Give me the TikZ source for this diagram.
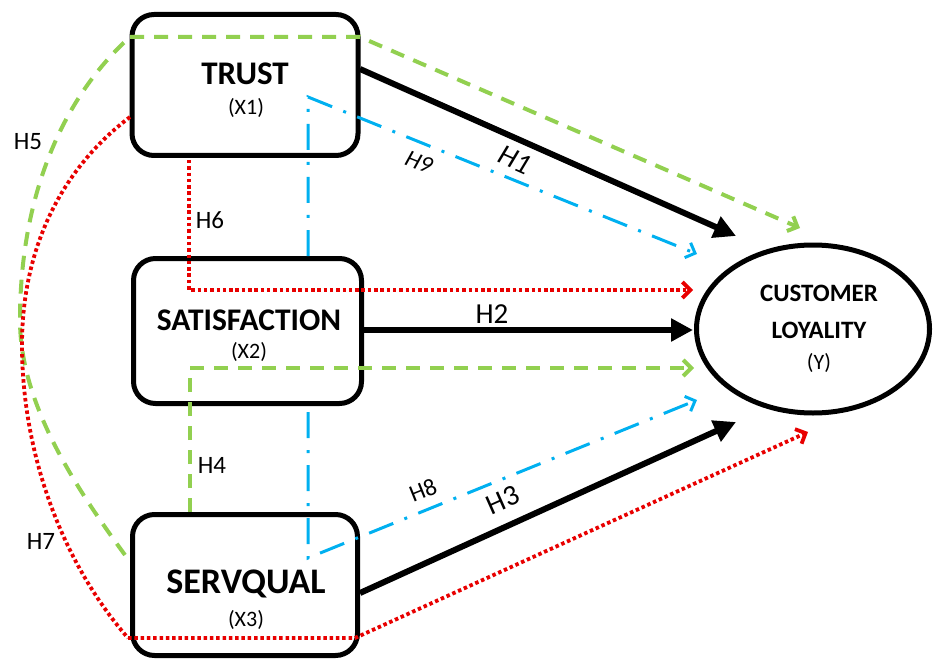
\documentclass[tikz,border=0pt]{standalone}
\usepackage{fontspec}
\setmainfont{Carlito}
\usetikzlibrary{arrows.meta,shapes.geometric}
\definecolor{lgreen}{RGB}{146,208,80}
\definecolor{lblue}{RGB}{0,176,240}
\definecolor{lred}{RGB}{232,0,0}
\begin{document}
\begin{tikzpicture}[x=1pt,y=-1pt,
 box/.style={draw, line width=5pt, rounded corners=22pt, inner sep=0pt},
 ttl/.style={inner sep=0pt, font=\fontsize{#1}{#1}\selectfont\bfseries},
 sub/.style={inner sep=0pt, font=\fontsize{22}{22}\selectfont},
 hlab/.style={inner sep=0pt, font=\fontsize{#1}{#1}\selectfont},
 hlabi/.style={inner sep=0pt, font=\fontsize{#1}{#1}\selectfont\itshape},
 mainarr/.style={line width=6pt, -{Triangle[length=22pt,width=22pt]}},
 gline/.style={lgreen, line width=4pt, dash pattern=on 14pt off 10pt},
 rline/.style={lred, line width=3.8pt, dash pattern=on 3.5pt off 2.8pt},
 bline/.style={lblue, line width=3pt, dash pattern=on 26pt off 12pt on 3pt off 12pt},
 openarr/.style={-{Straight Barb[length=8pt,width=16pt]}}
]
\useasboundingbox (0,0) rectangle (933,660);
% boxes
\node[box, minimum width=226pt, minimum height=141pt] (trust) at (245,85) {};
\node[box, minimum width=228pt, minimum height=145pt] (sat) at (247.5,331) {};
\node[box, minimum width=225pt, minimum height=141pt] (serv) at (245,585) {};
\node[draw, ellipse, line width=5pt, minimum width=233pt, minimum height=168pt, inner sep=0pt] (cl) at (813,329) {};
% texts
\node[ttl=33] (t1) at (245,74) {TRUST};
\node[sub] (t1s) at (246,108) {(X1)};
\node[ttl=31.5] (t2) at (249,320) {SATISFACTION};
\node[sub] (t2s) at (249,352) {(X2)};
\node[ttl=36] (t3) at (246,584) {SERVQUAL};
\node[sub] (t3s) at (246,620) {(X3)};
\node[ttl=25] (c1) at (819,293) {CUSTOMER};
\node[ttl=25] (c2) at (819,330) {LOYALITY};
\node[sub] (c3) at (819,363) {(Y)};
% waypoints and tips
\coordinate (gA) at (130,37);
\coordinate (gB) at (360,37);
\coordinate (gM) at (20,320);
\coordinate (gS) at (125,555);
\coordinate (rA) at (130,117);
\coordinate (rM) at (22,345);
\coordinate (rB) at (128,638);
\coordinate (rC) at (355,638);
\coordinate (h6s) at (189,160);
\coordinate (h6c) at (189,290);
\coordinate (h4s) at (190,512);
\coordinate (h4c) at (190,368);
\coordinate (h9s) at (308,256);
\coordinate (h9c) at (308,97);
\coordinate (h8s) at (308,412);
\coordinate (h8c) at (308,558);
\coordinate (h1s) at (360,69);
\coordinate (h2s) at (364,330);
\coordinate (h3s) at (360,593);
\coordinate (tip1) at (736,236);
\coordinate (tipG) at (800,228);
\coordinate (tip9) at (697,254);
\coordinate (tip6) at (693,290);
\coordinate (tip2) at (693,330);
\coordinate (tip4) at (694,368);
\coordinate (tip8) at (697,400);
\coordinate (tip3) at (736,422);
\coordinate (tip7) at (808,432);
% main black arrows
\draw[mainarr] (h1s) -- (tip1);
\draw[mainarr] (h2s) -- (tip2);
\draw[mainarr] (h3s) -- (tip3);
% green
\draw[gline] (gS) .. controls (70,480) and (20,400) .. (gM) .. controls (20,200) and (60,100) .. (gA);
\draw[gline, openarr] (gA) -- (gB) -- (tipG);
\draw[gline, openarr] (h4s) -- (h4c) -- (tip4);
% red
\draw[rline] (rA) .. controls (60,170) and (22,250) .. (rM) .. controls (22,450) and (60,560) .. (rB);
\draw[rline, openarr] (rB) -- (rC) -- (tip7);
\draw[rline, openarr] (h6s) -- (h6c) -- (tip6);
% blue
\draw[bline, openarr] (h9s) -- (h9c) -- (tip9);
\draw[bline, openarr] (h8s) -- (h8c) -- (tip8);
% labels
\node[hlabi=29, rotate=-24] (l1) at (515,160) {H1};
\node[hlab=29] (l2) at (492,314) {H2};
\node[hlab=29, rotate=24] (l3) at (503,500) {H3};
\node[hlab=25] (l4) at (212,465) {H4};
\node[hlab=25] (l5) at (28,142) {H5};
\node[hlab=25] (l6) at (210,220) {H6};
\node[hlab=25] (l7) at (41,541) {H7};
\node[hlab=24, rotate=22] (l8) at (423,490) {H8};
\node[hlabi=24, rotate=-22] (l9) at (419,162) {H9};
\end{tikzpicture}
\end{document}
